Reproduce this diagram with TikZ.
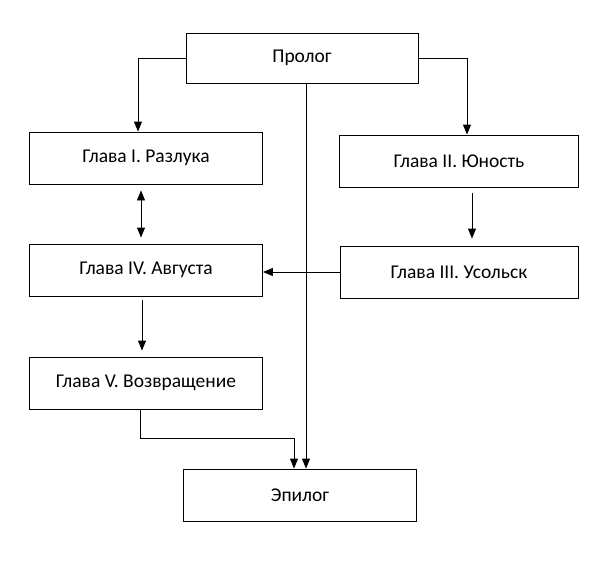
\documentclass[tikz,border=0pt]{standalone}
\usepackage{fontspec}
\setmainfont{Carlito}
\usetikzlibrary{arrows.meta}

\tikzset{
  part/.style={draw, line width=0.9pt, minimum width=233pt, minimum height=52pt,
    inner sep=0pt, font=\fontsize{19.5}{23}\selectfont},
  arr/.style={line width=0.9pt, -{Triangle[length=10pt,width=8pt]}},
  darr/.style={line width=0.9pt, {Triangle[length=10pt,width=8pt]}-{Triangle[length=10pt,width=8pt]}}
}

\begin{document}
\begin{tikzpicture}[x=1pt,y=-1pt]
            \useasboundingbox (0,0) rectangle (600,560);
            \node[part, minimum width=232pt, minimum height=50pt] (prolog) at (302,58) {Пролог};
            \node[part] (ch1) at (146,158) {Глава I. Разлука};
            \node[part, minimum width=239pt] (ch2) at (459,161) {Глава II. Юность};
            \node[part, minimum width=238pt] (ch3) at (459,272) {Глава III. Усольск};
            \node[part] (ch4) at (146,270) {Глава IV. Августа};
            \node[part] (ch5) at (146,383) {Глава V. Возвращение};
            \node[part] (epilog) at (300,495) {Эпилог};

            \draw[arr] (prolog.west) -| ([xshift=-8pt]ch1.north);
            \draw[arr] (prolog.east) -| ([xshift=8pt]ch2.north);
            \draw[arr] ([xshift=4pt]prolog.south) -- ([xshift=4pt]prolog.south |- epilog.north);
            \draw[darr, shorten <=6pt, shorten >=6pt] ([xshift=-5pt]ch1.south) -- ([xshift=-5pt]ch4.north);
            \draw[arr, shorten <=6pt, shorten >=7pt] ([xshift=13pt]ch2.south) -- ([xshift=13pt]ch3.north);
            \draw[arr] (ch3.west) -- (ch3.west -| ch4.east);
            \draw[arr, shorten <=4pt, shorten >=6pt] ([xshift=-4pt]ch4.south) -- ([xshift=-4pt]ch5.north);
            \draw[arr] ([xshift=-6pt]ch5.south) -- ++(0,29) -| ([xshift=-6pt]epilog.north);
        \end{tikzpicture}
\end{document}
